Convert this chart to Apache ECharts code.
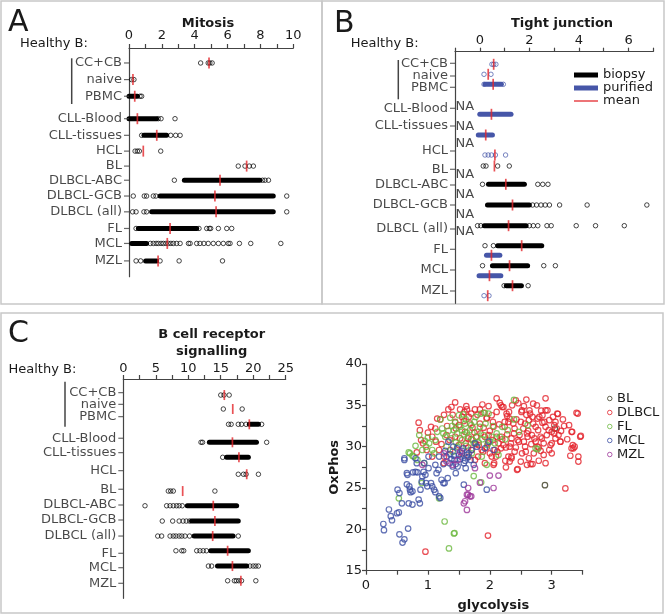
<!DOCTYPE html>
<html>
<head>
<meta charset="utf-8">
<script src="https://cdn.jsdelivr.net/npm/echarts@6/dist/echarts.min.js"></script>
<style>
  html, body { margin: 0; padding: 0; background: #fff; }
  #chart { width: 666px; height: 614px; }
</style>
</head>
<body>
<div id="chart"></div>
<script>
  // categories shared by the three strip plots
  var cats = ['CC+CB', 'naive', 'PBMC', 'CLL-Blood', 'CLL-tissues', 'HCL', 'BL',
    'DLBCL-ABC', 'DLBCL-GCB', 'DLBCL (all)', 'FL', 'MCL', 'MZL'];

  // A: Mitosis (row = slot on the vertical axis)
  var aRows = [1, 2, 3, 4.35, 5.35, 6.3, 7.2, 8.05, 9, 9.95, 10.95, 11.85, 12.9];
  var aMeans = [4.87, 0.24, 0.35, 0.51, 1.69, 0.87, 7.16, 5.54, 5.23, 5.3, 2.5, 2.33, 1.77];
  var aBands = [null, null, [0, 0.51], [0, 1.68], [0.91, 2.29], null, null,
    [3.37, 7.97], [1.89, 8.78], [1.38, 8.78], [0.57, 4.12], [0.16, 1.07], [1.01, 1.68]];
  var aPoints = [
    [4.36, 4.82, 4.92, 5.06],
    [0.16, 0.3],
    [0.67, 0.77],
    [1.78, 1.95, 2.8],
    [0.77, 2.54, 2.84, 3.11],
    [0.37, 0.51, 0.63, 1.93],
    [6.65, 7.06, 7.32, 7.57],
    [2.76, 8.13, 8.28, 8.49],
    [0.26, 0.93, 1.07, 1.48, 1.64, 9.6],
    [0.22, 0.43, 0.91, 1.07, 9.6],
    [0.43, 4.26, 4.73, 4.89, 4.97, 5.44, 5.95, 6.25],
    [1.3, 1.48, 1.65, 1.78, 1.95, 2.09, 2.25, 2.39, 2.55, 2.7, 2.9, 3.11, 3.62, 3.72, 4.12,
      4.32, 4.56, 4.82, 5.13, 5.44, 5.74, 6.04, 6.15, 6.72, 7.41, 9.24],
    [0.43, 0.71, 1.89, 3.05, 5.69]
  ];

  // B: Tight junction, biopsy (black) and purified (blue) rows
  var bLabelRows = [1.16, 2.43, 3.56, 5.66, 7.43, 9.93, 11.76, 13.33, 15.33, 17.73, 19.76, 21.83, 23.93];
  var bBioRows = [null, null, null, null, null, null, 11.43, 13.26, 15.33, 17.4, 19.4, 21.4, 23.4];
  var bBioMeans = [null, null, null, null, null, null, 0.59, 1.05, 1.32, 1.16, 1.69, 1.2, 1.32];
  var bBioBands = [null, null, null, null, null, null, null,
    [0.35, 1.8], [0.31, 2.0], [0.18, 1.87], [0.72, 2.5], [0.51, 1.93], [1.07, 1.68]];
  var bBioPoints = [[], [], [], [], [], [],
    [0.14, 0.25, 0.72, 1.19],
    [0.11, 2.34, 2.54, 2.75],
    [2.13, 2.29, 2.47, 2.64, 2.81, 3.22, 4.33, 6.74],
    [-0.09, 0.04, 2.0, 2.16, 2.34, 2.71, 2.88, 3.89, 4.67, 5.83],
    [0.21, 0.55],
    [0.11, 2.58, 3.05],
    [0.98, 1.95]];
  var bPurRows = [1.26, 2.26, 3.26, 6.26, 8.33, 10.33, null, null, null, null, 20.36, 22.4, 24.4];
  var bPurMeans = [0.56, 0.34, 0.54, 0.47, 0.24, 0.61, null, null, null, null, 0.47, 0.39, 0.32];
  var bPurBands = [null, null, [0.21, 0.87], [0, 1.26], [-0.06, 0.51], null, null, null, null, null,
    [0.27, 0.81], [-0.03, 0.85], null];
  var bPurPoints = [[0.49, 0.56, 0.65], [0.17, 0.45], [0.17, 0.95], [], [],
    [0.21, 0.34, 0.47, 0.63, 1.04], [], [], [], [], [], [], [0.17, 0.37]];
  var bNaRows = [5.5, 7.5, 9.16, 12.33, 14.33, 16.33, 18.0];

  // C: B cell receptor signalling
  var cLabelRows = [0.91, 1.69, 2.51, 3.95, 4.91, 6.11, 7.35, 8.4, 9.4, 10.47, 11.62, 12.58, 13.62];
  var cRows = [1.07, 2.0, 3.02, 4.22, 5.22, 6.35, 7.47, 8.45, 9.47, 10.47, 11.45, 12.47, 13.45];
  var cMeans = [15.55, 16.85, 19.4, 16.8, 17.8, 19.0, 9.14, 13.85, 14.1, 13.76, 16.06, 16.8, 18.1];
  var cBands = [null, null, [19.4, 20.8], [13.25, 20.5], [15.9, 19.25], null, null,
    [9.85, 17.45], [10.5, 17.7], [10.9, 16.9], [13.45, 19.25], [14.5, 19.0], null];
  var cPoints = [
    [15.0, 15.5, 16.3],
    [15.4, 18.3],
    [16.2, 16.6, 17.7, 18.2, 18.9, 21.3],
    [11.96, 12.2, 22.07],
    [15.3],
    [17.7, 18.5, 18.9, 20.8],
    [6.93, 7.3, 7.7, 14.1],
    [3.34, 6.67, 7.2, 7.7, 8.2, 8.6, 9.08],
    [6.0, 7.6, 8.6, 9.2, 9.7, 10.2],
    [5.3, 5.9, 7.2, 7.7, 8.1, 8.6, 9.0, 9.5, 10.2, 17.7],
    [8.1, 9.0, 9.3, 11.3, 11.8, 12.3, 12.8],
    [13.1, 13.6, 19.5, 20.0, 20.4, 20.8],
    [16.06, 17.1, 17.4, 17.8, 18.2, 20.4]
  ];

  // D: glycolysis vs OxPhos
  var blPts = [[2.89, 25.35], [3.05, 32.2]];
  var dlbclPts = [[0.96, 17.3], [1.97, 19.25], [3.22, 24.95], [2.44, 27.2], [2.6, 27.8], [2.06, 27.8], [3.43, 28.8], [3.43, 28.2],
    [2.69, 27.9], [2.79, 28.3], [2.32, 28.2], [2.35, 28.6], [1.76, 28.4], [1.92, 28.0], [0.82, 29.3], [1.26, 28.0],
    [0.85, 32.9], [0.87, 32.0], [0.89, 30.8], [0.92, 30.4], [1.0, 31.7], [1.07, 31.2], [1.12, 32.2], [1.13, 30.6],
    [1.2, 33.3], [1.26, 33.85], [1.33, 34.5], [1.38, 34.8], [1.44, 35.35], [1.4, 33.85], [1.44, 33.0], [1.31, 32.5],
    [1.52, 34.5], [1.55, 33.6], [1.59, 34.2], [1.63, 34.5], [1.66, 33.6], [1.68, 32.8], [1.76, 34.5], [1.8, 33.85],
    [1.84, 34.5], [1.9, 34.1], [1.95, 33.5], [2.03, 33.8], [2.11, 35.85], [2.16, 35.3], [2.22, 34.8], [2.11, 34.2],
    [2.27, 34.0], [2.32, 33.4], [2.46, 35.25], [2.59, 35.7], [2.51, 34.2], [2.59, 33.85], [2.64, 34.4], [2.69, 33.6],
    [2.77, 33.4], [2.9, 35.85], [2.9, 34.4], [2.96, 33.2], [3.04, 32.6], [3.09, 34.0], [3.04, 31.6], [3.14, 30.6],
    [3.33, 31.8], [3.42, 34.0], [3.46, 31.2], [3.34, 30.2], [3.35, 29.8], [2.9, 32.4], [2.82, 31.2], [2.87, 30.4],
    [2.98, 30.2], [2.77, 30.0], [2.71, 29.2], [2.61, 31.2], [2.54, 32.2], [2.45, 30.8], [2.39, 31.6], [2.32, 30.0],
    [2.35, 28.8], [2.24, 32.4], [2.19, 31.2], [2.14, 30.4], [2.08, 29.6], [2.03, 28.8], [1.92, 31.2], [1.87, 29.6],
    [1.81, 28.8], [1.71, 29.6], [1.66, 28.8], [1.61, 30.4], [1.55, 29.2], [1.5, 30.2], [1.44, 31.2], [1.36, 29.6],
    [1.26, 28.8], [1.18, 29.6], [1.07, 28.8], [2.18, 35.0], [2.2, 34.8], [2.42, 35.6], [2.83, 34.35], [2.8, 33.6],
    [2.93, 34.4], [3.1, 33.95], [3.32, 31.8], [3.47, 31.3], [3.4, 34.1], [3.14, 30.6], [3.32, 29.8], [3.37, 30.0],
    [2.63, 28.6], [2.66, 27.9], [2.45, 27.3], [2.07, 28.0], [2.3, 28.8], [2.52, 29.2], [2.79, 29.9], [3.0, 30.4],
    [2.84, 31.0], [2.68, 31.4], [2.47, 30.6], [2.26, 29.9], [2.4, 32.2], [2.57, 32.8], [2.74, 32.4], [2.95, 32.0],
    [3.06, 33.0], [2.24, 33.0], [2.06, 32.4], [1.95, 33.4], [1.84, 32.8], [1.78, 31.2], [1.97, 30.4], [2.11, 31.2],
    [2.52, 34.4], [2.31, 34.2], [2.65, 34.0], [2.76, 35.0], [2.1, 28.8], [1.89, 29.4], [2.18, 29.8], [2.34, 30.4],
    [2.57, 30.0], [2.74, 30.6], [2.87, 29.0], [3.06, 31.0], [3.11, 31.4], [1.6, 31.8], [1.72, 32.3], [1.85, 31.6],
    [2.0, 31.9], [1.5, 32.6], [1.65, 31.0], [2.28, 31.5], [2.43, 33.3], [2.62, 31.9], [2.88, 33.0], [1.95, 29.9],
    [2.4, 29.4], [2.2, 30.9], [1.78, 30.3], [3.2, 32.5],
    [1.7, 30.9], [1.75, 31.7], [1.82, 30.2], [1.9, 32.3], [1.98, 31.4], [2.05, 30.8], [2.12, 29.4], [2.15, 32.7],
    [2.22, 30.2], [2.25, 28.3], [2.28, 33.7], [2.35, 31.0], [2.38, 32.8], [2.42, 29.9], [2.48, 31.4], [2.5, 33.0],
    [2.55, 30.6], [2.58, 29.4], [2.6, 31.6], [2.63, 33.2], [2.67, 30.3], [2.7, 32.8], [2.72, 31.0], [2.78, 32.0],
    [2.82, 29.5], [2.85, 32.9], [2.92, 31.4], [2.96, 29.6], [3.0, 31.8], [3.02, 33.6], [3.08, 32.2], [3.15, 31.9],
    [3.18, 33.3], [3.25, 30.9], [3.28, 32.6], [1.45, 32.2], [1.52, 31.0], [1.58, 33.1], [1.65, 29.9], [1.62, 34.9],
    [1.7, 34.0], [1.88, 35.1], [1.98, 34.9], [2.05, 33.0], [2.3, 33.0], [2.36, 35.0], [2.55, 34.9], [2.7, 35.2],
    [2.85, 33.8], [1.3, 31.4], [1.22, 30.3], [1.15, 33.4], [1.05, 32.4], [0.98, 29.6], [1.35, 30.8], [2.0, 29.2],
    [2.26, 27.5], [2.5, 28.2], [2.9, 28.0], [3.0, 29.2], [3.3, 28.9]];
  var flPts = [[0.53, 23.75], [0.9, 25.6], [1.18, 23.75], [1.27, 20.95], [1.42, 19.5], [1.43, 19.55], [1.34, 17.7],
    [1.74, 26.45], [1.86, 25.7], [1.95, 27.8], [0.71, 29.2], [0.83, 28.4], [0.94, 28.0], [0.77, 28.8],
    [0.86, 31.4], [0.97, 30.0], [1.02, 30.4], [1.07, 29.6], [1.12, 30.8], [1.2, 33.3], [1.23, 32.2], [1.28, 31.2],
    [1.36, 33.5], [1.39, 32.5], [1.47, 31.6], [1.52, 32.4], [1.55, 30.8], [1.61, 33.3], [1.66, 31.2], [1.68, 32.0],
    [1.74, 30.4], [1.79, 31.2], [1.84, 32.4], [1.92, 34.1], [1.98, 34.0], [2.03, 31.2], [2.11, 31.6], [2.16, 31.2],
    [2.29, 32.0], [2.39, 33.3], [2.47, 31.8], [2.61, 32.6], [2.74, 29.8], [0.75, 28.9], [0.69, 29.3], [0.91, 29.6],
    [1.71, 29.2], [1.87, 28.8], [2.14, 29.0], [2.39, 35.65], [2.77, 29.7], [1.86, 34.0], [1.5, 33.8], [1.58, 31.5],
    [1.45, 30.5], [1.75, 33.0], [1.3, 30.0], [1.62, 30.1], [2.0, 30.6], [1.88, 30.9], [1.6, 32.8], [1.42, 32.0],
    [1.33, 31.9], [1.38, 31.0], [1.44, 32.9], [1.48, 30.0], [1.55, 32.0], [1.57, 33.9], [1.63, 31.7], [1.7, 32.6],
    [1.72, 30.8], [1.77, 33.6], [1.8, 31.8], [1.82, 30.5], [1.9, 31.4], [1.93, 32.8], [1.96, 30.2], [2.05, 32.5],
    [2.08, 30.4], [2.2, 32.4], [2.25, 30.9], [1.25, 31.6], [1.15, 31.8], [1.0, 31.1], [0.95, 30.7], [0.8, 30.1],
    [1.1, 29.2], [1.4, 29.4]];
  var mclPts = [[0.28, 20.65], [0.29, 19.9], [0.37, 22.4], [0.4, 21.6], [0.42, 21.1], [0.5, 21.95], [0.53, 22.05],
    [0.51, 24.8], [0.54, 24.4], [0.54, 19.4], [0.62, 18.8], [0.59, 18.4], [0.58, 23.15], [0.62, 28.4], [0.66, 26.8],
    [0.67, 26.6], [0.66, 25.45], [0.68, 20.1], [0.69, 23.15], [0.7, 25.2], [0.71, 24.8], [0.72, 24.5], [0.75, 23.0],
    [0.75, 24.6], [0.76, 26.9], [0.8, 26.95], [0.82, 28.0], [0.83, 26.9], [0.85, 23.6], [0.87, 23.15], [0.88, 24.8],
    [0.9, 25.8], [0.91, 26.4], [0.93, 26.95], [0.94, 28.0], [0.96, 26.6], [0.97, 25.6], [0.99, 25.2], [1.01, 27.4],
    [1.05, 25.6], [1.07, 25.2], [1.1, 24.8], [1.12, 24.5], [1.14, 26.8], [1.17, 27.2], [1.18, 24.0], [1.2, 23.8],
    [1.22, 26.0], [1.25, 25.6], [1.27, 25.6], [1.3, 28.8], [1.32, 26.2], [1.35, 28.0], [1.4, 27.6], [1.43, 28.4],
    [1.45, 26.8], [1.48, 27.6], [1.53, 28.8], [1.58, 25.4], [1.58, 28.0], [1.61, 27.4], [1.63, 29.0], [1.69, 28.4],
    [1.95, 24.8], [1.74, 27.8], [1.33, 30.6], [1.41, 30.0], [1.47, 29.8], [1.76, 30.4], [1.79, 30.0], [1.98, 30.6],
    [1.18, 28.8], [0.62, 28.6], [0.8, 28.6], [1.01, 28.8], [1.66, 29.2], [1.92, 29.8], [2.06, 29.6], [1.55, 29.5],
    [1.52, 28.5], [1.6, 28.3], [1.36, 29.1], [1.42, 28.9], [1.5, 29.0], [1.57, 29.8], [1.64, 28.7], [1.7, 29.6],
    [1.45, 27.9], [1.38, 28.5], [1.25, 27.9], [1.12, 27.8], [1.28, 29.5]];
  var mzlPts = [[1.58, 23.15], [1.6, 23.4], [1.63, 24.2], [1.65, 24.2], [1.68, 24.0], [1.7, 24.0], [1.63, 22.35],
    [1.65, 25.0], [1.84, 25.65], [2.0, 26.5], [2.14, 26.5], [2.06, 25.0], [1.48, 28.4], [1.3, 28.2], [1.76, 27.4],
    [0.91, 27.8], [1.4, 27.8], [1.26, 29.2], [1.52, 29.4]];

  var FF = 'DejaVu Sans';
  var AX = '#444';
  var TXT = '#1a1a1a';
  var RED = '#e3262b';
  var BLUE = '#4656a8';
  var NOFILL = 'rgba(0,0,0,0)';

  var chart = echarts.init(document.getElementById('chart'));

  function xAx(grid, pos, min, max, interval, fmt, margin, extra) {
    var a = {
      gridIndex: grid, type: 'value', position: pos, min: min, max: max, interval: interval,
      axisLine: {show: true, onZero: false, lineStyle: {color: AX, width: 1.2}},
      axisTick: {show: true, length: 4, lineStyle: {color: AX, width: 1.2}},
      axisLabel: {color: TXT, fontSize: 13, fontFamily: FF, margin: margin, formatter: fmt},
      splitLine: {show: false}
    };
    return Object.assign(a, extra || {});
  }
  function rowAx(grid, min, max) {
    return {
      gridIndex: grid, type: 'value', inverse: true, min: min, max: max,
      axisLine: {show: true, onZero: false, lineStyle: {color: AX, width: 1.2}},
      axisTick: {show: false}, axisLabel: {show: false}, splitLine: {show: false}
    };
  }
  function ptsSeries(name, ix, rows, pts, color) {
    var data = [];
    pts.forEach(function (arr, i) {
      if (rows[i] == null) return;
      arr.forEach(function (v) { data.push([v, rows[i]]); });
    });
    return {type: 'scatter', name: name, xAxisIndex: ix, yAxisIndex: ix, data: data, clip: false,
      symbol: 'circle', symbolSize: 4.5, silent: true, z: 3,
      itemStyle: {color: NOFILL, borderColor: color, borderWidth: 0.9}};
  }
  function bandSeries(name, ix, rows, bands, color) {
    var data = [];
    bands.forEach(function (b, i) { if (b && rows[i] != null) data.push([b[0], b[1], rows[i]]); });
    return {type: 'custom', name: name, coordinateSystem: 'cartesian2d', xAxisIndex: ix, yAxisIndex: ix,
      data: data, encode: {x: [0, 1], y: 2}, silent: true, z: 2, clip: false,
      itemStyle: {color: color},
      renderItem: function (p, api) {
        var s = api.coord([api.value(0), api.value(2)]);
        var e = api.coord([api.value(1), api.value(2)]);
        return {type: 'line', shape: {x1: s[0], y1: s[1], x2: e[0], y2: e[1]},
          style: {stroke: color, lineWidth: 5, lineCap: 'round'}};
      }};
  }
  function meanSeries(name, ix, rows, means, h) {
    var data = [];
    means.forEach(function (m, i) { if (m != null && rows[i] != null) data.push([m, rows[i]]); });
    return {type: 'scatter', name: name, xAxisIndex: ix, yAxisIndex: ix, data: data, clip: false,
      symbol: 'rect', symbolSize: [1.7, h], itemStyle: {color: RED}, silent: true, z: 5};
  }
  function labelSeries(ix, xmin, rows) {
    return {type: 'scatter', xAxisIndex: ix, yAxisIndex: ix, clip: false, silent: true, z: 4,
      data: cats.map(function (c, i) { return {name: c, value: [xmin, rows[i]]}; }),
      symbol: 'rect', symbolSize: [5, 1.2], symbolOffset: [-2.5, 0], itemStyle: {color: AX},
      label: {show: true, position: 'left', distance: 2, formatter: '{b}', color: TXT, fontSize: 13, fontFamily: FF}};
  }
  function groupSeries(name, pts, color) {
    return {type: 'scatter', name: name, xAxisIndex: 3, yAxisIndex: 3, data: pts, symbol: 'circle',
      symbolSize: 5.5, silent: true, itemStyle: {color: NOFILL, borderColor: color, borderWidth: 1.2}};
  }
  function txt(x, y, s, size, bold, align) {
    return {type: 'text', x: x, y: y, silent: true,
      style: {text: s, fontSize: size, fontWeight: bold ? 'bold' : 'normal', fontFamily: FF, fill: TXT,
        align: align || 'left', verticalAlign: 'middle', lineHeight: size + 4}};
  }
  function vline(x, y1, y2) {
    return {type: 'line', silent: true, shape: {x1: x, y1: y1, x2: x, y2: y2}, style: {stroke: AX, lineWidth: 1.5}};
  }
  function box(x, y, w, h) {
    return {type: 'rect', silent: true, shape: {x: x, y: y, width: w, height: h},
      style: {fill: NOFILL, stroke: '#c8c8c8', lineWidth: 1.5}};
  }

  var groupColors = {BL: '#3b3b22', DLBCL: '#e4222a', FL: '#6cb83f', MCL: '#3b4ea2', MZL: '#9c3599'};

  chart.setOption({
    animation: false,
    backgroundColor: '#fff',
    grid: [
      {left: 129, top: 48, width: 164.3, height: 228.7, outerBoundsMode: 'none'},
      {left: 455, top: 51.7, width: 198.3, height: 251.6, outerBoundsMode: 'none'},
      {left: 123.3, top: 379, width: 162.4, height: 219.3, outerBoundsMode: 'none'},
      {left: 366, top: 364, width: 216.7, height: 206.7, outerBoundsMode: 'none'}
    ],
    xAxis: [
      xAx(0, 'top', 0, 10, 1, function (v) { return v % 2 === 0 ? String(v) : ''; }, 6),
      xAx(1, 'top', -1, 7, 1, function (v) { return (v >= 0 && v % 2 === 0) ? String(v) : ''; }, 5),
      xAx(2, 'top', 0, 25, 2.5, function (v) { return v % 5 === 0 ? String(v) : ''; }, 4),
      xAx(3, 'bottom', 0, 3.5, 0.5, function (v) { return v % 1 === 0 ? String(v) : ''; }, 8, {
        name: 'glycolysis', nameLocation: 'middle', nameGap: 28,
        nameTextStyle: {fontSize: 13, fontWeight: 'bold', fontFamily: FF, color: TXT, padding: [0, 0, 0, 38]}
      })
    ],
    yAxis: [
      rowAx(0, 0.1, 13.85),
      rowAx(1, 0, 25.16),
      rowAx(2, 0, 14.62),
      {
        gridIndex: 3, type: 'value', min: 15, max: 40, interval: 2.5,
        axisLine: {show: true, onZero: false, lineStyle: {color: AX, width: 1.2}},
        axisTick: {show: true, length: 4, lineStyle: {color: AX, width: 1.2}},
        axisLabel: {color: TXT, fontSize: 13, fontFamily: FF, margin: 4,
          formatter: function (v) { return v % 5 === 0 ? String(v) : ''; }},
        splitLine: {show: false},
        name: 'OxPhos', nameLocation: 'middle', nameGap: 25, nameRotate: 90,
        nameTextStyle: {fontSize: 13, fontWeight: 'bold', fontFamily: FF, color: TXT}
      }
    ],
    legend: [
      {
        orient: 'vertical', left: 574, top: 68.5, padding: 0, itemGap: 0, itemTextGap: 4,
        itemWidth: 24, itemHeight: 5, selectedMode: false,
        textStyle: {fontSize: 13, fontFamily: FF, color: TXT, lineHeight: 13},
        data: [
          {name: 'biopsy', icon: 'rect', itemStyle: {color: '#000'}},
          {name: 'purified', icon: 'rect', itemStyle: {color: BLUE}},
          {name: 'mean', icon: 'path://M0,0H24V1.6H0Z', itemStyle: {color: RED}}
        ]
      },
      {
        orient: 'vertical', left: 607, top: 391.5, padding: 0, itemGap: 0, itemTextGap: 4,
        itemWidth: 4.5, itemHeight: 4.5, selectedMode: false,
        textStyle: {fontSize: 13, fontFamily: FF, color: TXT, lineHeight: 14},
        data: Object.keys(groupColors).map(function (k) {
          return {name: k, icon: 'circle',
            itemStyle: {color: NOFILL, borderColor: groupColors[k], borderWidth: 1}};
        })
      }
    ],
    series: [
      // A
      bandSeries('A band', 0, aRows, aBands, '#000'),
      ptsSeries('A pts', 0, aRows, aPoints, '#000'),
      meanSeries('A mean', 0, aRows, aMeans, 11),
      labelSeries(0, 0, aRows),
      // B
      bandSeries('biopsy', 1, bBioRows, bBioBands, '#000'),
      ptsSeries('biopsy pts', 1, bBioRows, bBioPoints, '#000'),
      bandSeries('purified', 1, bPurRows, bPurBands, BLUE),
      ptsSeries('purified pts', 1, bPurRows, bPurPoints, BLUE),
      meanSeries('mean', 1, bBioRows, bBioMeans, 11),
      meanSeries('mean', 1, bPurRows, bPurMeans, 11),
      labelSeries(1, -1, bLabelRows),
      {
        type: 'scatter', xAxisIndex: 1, yAxisIndex: 1, clip: false, silent: true,
        data: bNaRows.map(function (r) { return [-1, r]; }),
        symbolSize: 1, itemStyle: {color: NOFILL},
        label: {show: true, position: 'right', distance: 0, formatter: 'NA', color: TXT, fontSize: 13, fontFamily: FF}
      },
      // C
      bandSeries('C band', 2, cRows, cBands, '#000'),
      ptsSeries('C pts', 2, cRows, cPoints, '#000'),
      meanSeries('C mean', 2, cRows, cMeans, 10),
      labelSeries(2, 0, cLabelRows),
      // D
      groupSeries('BL', blPts, groupColors.BL),
      groupSeries('DLBCL', dlbclPts, groupColors.DLBCL),
      groupSeries('FL', flPts, groupColors.FL),
      groupSeries('MCL', mclPts, groupColors.MCL),
      groupSeries('MZL', mzlPts, groupColors.MZL)
    ],
    graphic: [
      box(1, 1, 321, 303),
      box(322, 1, 342, 303),
      box(1, 313, 662, 300),
      txt(8, 23, 'A', 30),
      txt(334, 24, 'B', 30),
      txt(8, 334, 'C', 30),
      txt(208, 23.5, 'Mitosis', 13, true, 'center'),
      txt(562, 24, 'Tight junction', 13, true, 'center'),
      txt(211.7, 343.5, 'B cell receptor\nsignalling', 13, true, 'center'),
      txt(20, 44, 'Healthy B:', 13),
      txt(350.7, 43.5, 'Healthy B:', 13),
      txt(8.5, 369.5, 'Healthy B:', 13),
      vline(71.7, 58.3, 104),
      vline(398.3, 60, 99.3),
      vline(65, 381.7, 426.7)
    ]
  });
</script>
</body>
</html>
